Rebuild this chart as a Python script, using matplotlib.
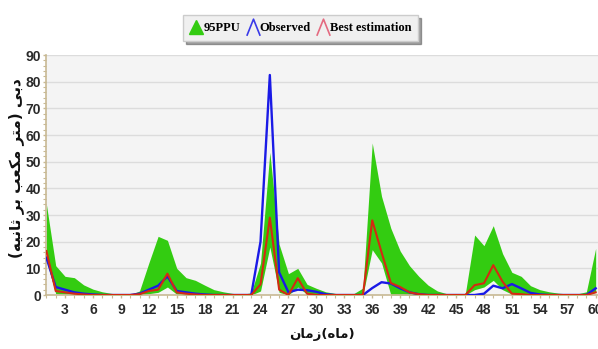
import matplotlib
matplotlib.use("Agg")
import matplotlib.pyplot as plt
from matplotlib.lines import Line2D
from matplotlib.path import Path
from matplotlib.ticker import MultipleLocator
import numpy as np

# monthly discharge (m3/s)
months = np.arange(1, 61)
ppu_upper = [34, 11, 7, 6.5, 3.8, 2.2, 1.2, 0.6, 0.3, 0.2,
             1.5, 12, 22, 20.5, 10, 6.5, 5.5, 3.7, 2, 1.2,
             0.6, 0.3, 0.8, 12, 53.5, 19, 8, 10, 4, 2.5,
             1.2, 0.6, 0.3, 0.5, 2.6, 57, 37, 25, 16.5, 11,
             7, 3.7, 1.5, 0.5, 0.2, 0.5, 22.5, 18.5, 26, 15.5,
             8.5, 7, 3.5, 2, 1.2, 0.7, 0.4, 0.4, 1.2, 17.5]
ppu_lower = [13, 0.5, 0.3, 0.2, 0, 0, 0, 0, 0, 0,
             0, 0.5, 1, 3, 0.3, 0, 0, 0, 0, 0,
             0, 0, 0, 1.5, 18, 1, 0, 3, 0.3, 0,
             0, 0, 0, 0, 0, 17, 12, 0, 0, 0,
             0, 0, 0, 0, 0, 0, 2, 3, 5.5, 2,
             0.3, 0, 0, 0, 0, 0, 0, 0, 0, 1]
observed = [14, 3, 2, 1, 0.5, 0.2, 0, 0, 0, 0,
            0.5, 2, 3.5, 7, 1.5, 1, 0.5, 0.2, 0, 0,
            0, 0, 0, 20, 82.5, 8.5, 1, 2, 1.8, 1.2,
            0.3, 0, 0, 0, 0, 2.6, 4.8, 4.3, 2.5, 1,
            0.3, 0, 0, 0, 0, 0, 0, 0.5, 3.5, 2.5,
            4.1, 2.5, 0.8, 0.2, 0, 0, 0, 0, 0, 2.5]
best_est = [16.5, 1.5, 1, 0.5, 0.2, 0, 0, 0, 0, 0,
            0.3, 1.5, 2, 8, 1, 0.5, 0.2, 0, 0, 0,
            0, 0, 0, 4, 29, 2, 0, 6.3, 0.5, 0,
            0, 0, 0, 0, 0, 28, 16, 4.5, 3, 1,
            0.3, 0, 0, 0, 0, 0, 3.7, 4.4, 11.2, 5,
            0.5, 0.3, 0, 0, 0, 0, 0, 0, 0, 1]

x_ticks = np.arange(3, 61, 3)
y_ticks = np.arange(0, 91, 10)
legend_labels = ["95PPU", "Observed", "Best estimation"]

# Persian labels, written in visual order with presentation forms
# (matplotlib does no bidi / arabic shaping)
xlabel = "\uFEE5\uFE8E\uFEE3\uFEAF(\uFEE9\uFE8E\uFEE3)"  # زمان(ماه)
ylabel = ("(" + "\uFEEA\uFBFF\uFEE7\uFE8E\uFE9B" + " " + "\uFEAE\uFE91" + " "
          + "\uFE90\uFECC\uFB91\uFEE3" + " " + "\uFEAE\uFE98\uFEE3" + ") "
          + "\uFBFD\uFE91\uFEA9")  # دبی (متر مکعب بر ثانیه)

green = "#33cc11"
blue = "#1a1ae6"
red = "#d42a12"
axis_col = "#c8b994"

fig = plt.figure(figsize=(5.98, 3.49), dpi=100)
ax = fig.add_axes([0.0776, 0.1547, 0.9224, 0.6877])
ax.set_facecolor("#f4f4f4")

ax.fill_between(months, ppu_lower, ppu_upper, color=green, linewidth=0, zorder=2)
ax.plot(months, observed, color=blue, lw=1.7, zorder=3)
ax.plot(months, best_est, color=red, lw=1.5, zorder=4)

ax.set_xlim(1, 60.25)
ax.set_ylim(0, 90)
ax.set_xticks(x_ticks)
ax.set_yticks(y_ticks)
ax.xaxis.set_minor_locator(MultipleLocator(1))
ax.yaxis.set_minor_locator(MultipleLocator(2))
ax.grid(axis="y", which="major", color="#dcdcdc", lw=1)
ax.set_axisbelow(True)

for side in ["top", "right"]:
    ax.spines[side].set_visible(False)
for side in ["left", "bottom"]:
    ax.spines[side].set_color(axis_col)
    ax.spines[side].set_linewidth(1.2)

ax.tick_params(colors=axis_col, length=2.5, width=1)
ax.tick_params(axis="y", pad=1.5)
ax.tick_params(which="minor", colors=axis_col, length=2, width=0.8)
for lab in ax.get_xticklabels() + ax.get_yticklabels():
    lab.set_family(["Liberation Sans", "DejaVu Sans"])
    lab.set_fontweight("bold")
    lab.set_fontsize(10)
    lab.set_color("#2a2a2a")

ax.set_xlabel(xlabel, family=["DejaVu Sans"], fontweight="bold", fontsize=9.5,
              labelpad=8, color="#111111")
ax.set_ylabel(ylabel, family=["DejaVu Sans"], fontweight="bold", fontsize=11,
              color="#111111")
ax.yaxis.set_label_coords(-0.04, 0.53)

caret = Path([(-0.8, -1), (0, 1), (0.8, -1)], [Path.MOVETO, Path.LINETO, Path.LINETO])
handles = [
    Line2D([], [], ls="none", marker="^", color=green, markersize=10),
    Line2D([], [], ls="none", marker=caret, markerfacecolor="none",
           markeredgecolor="#3a3ae8", markeredgewidth=1.2, markersize=12),
    Line2D([], [], ls="none", marker=caret, markerfacecolor="none",
           markeredgecolor="#e46a80", markeredgewidth=1.2, markersize=12),
]
leg = fig.legend(handles, legend_labels, ncol=3,
                 loc="center", bbox_to_anchor=(0.503, 0.92),
                 prop={"family": "Liberation Serif", "weight": "bold", "size": 9},
                 handletextpad=0.05, columnspacing=0.5, handlelength=1.0,
                 borderpad=0.55, fancybox=False, shadow=True,
                 facecolor="#f0f0f0", edgecolor="#cccccc", framealpha=1)

fig.savefig("out.png", dpi=100)
